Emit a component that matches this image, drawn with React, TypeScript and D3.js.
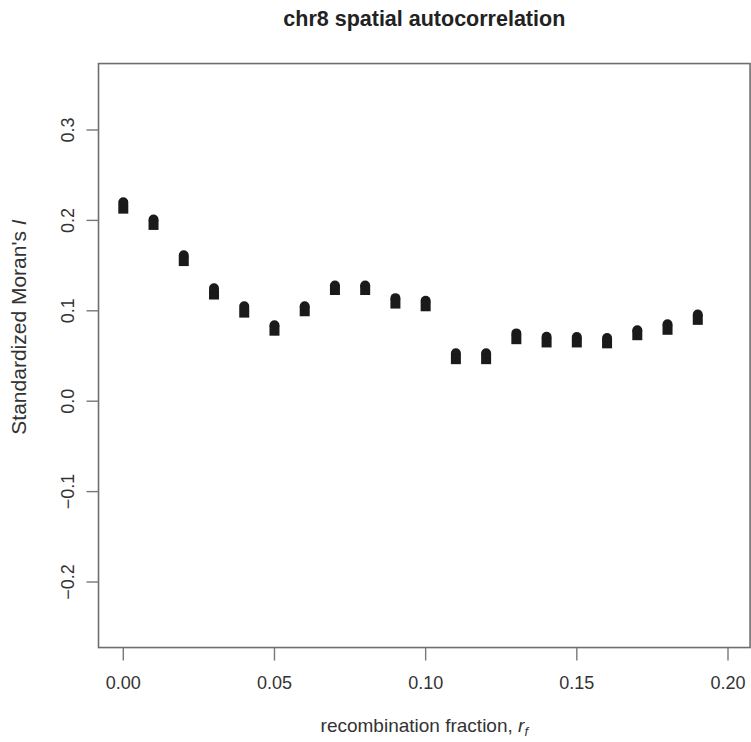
import React from "react";
import * as d3 from "d3";

const xValues = [0, 0.01, 0.02, 0.03, 0.04, 0.05, 0.06, 0.07, 0.08, 0.09, 0.1, 0.11, 0.12, 0.13, 0.14, 0.15, 0.16, 0.17, 0.18, 0.19];
const circleValues = [0.22, 0.201, 0.1615, 0.125, 0.105, 0.084, 0.105, 0.128, 0.128, 0.114, 0.111, 0.053, 0.053, 0.075, 0.0713, 0.071, 0.07, 0.0785, 0.085, 0.096];
const squareValues = [0.213, 0.195, 0.155, 0.118, 0.098, 0.078, 0.0995, 0.123, 0.123, 0.108, 0.105, 0.0465, 0.0465, 0.0686, 0.065, 0.065, 0.064, 0.073, 0.079, 0.09];
const xTicks = [0, 0.05, 0.1, 0.15, 0.2];
const yTicks = [-0.2, -0.1, 0, 0.1, 0.2, 0.3];
const xLim = [-0.0082, 0.2073];
const yLim = [-0.2725, 0.3735];

const W = 751;
const H = 742;
const FONT = "'Liberation Sans', Arial, Helvetica, sans-serif";

export default function App() {
  const x = d3.scaleLinear().domain([0, 0.2]).range([123.3, 728]);
  const y = d3.scaleLinear().domain([-0.2, 0.3]).range([582, 130]);
  const left = x(xLim[0]);
  const right = x(xLim[1]);
  const top = y(yLim[1]);
  const bottom = y(yLim[0]);
  const fmtX = d3.format(".2f");
  const fmtY = (v: number) => d3.format(".1f")(v).replace("-", "\u2212");
  const r = 5;
  return (
    <svg width={W} height={H} style={{ position: "absolute", left: 0, top: 0, background: "#fff" }}>
      <text x={(left + right) / 2} y={26} textAnchor="middle" fontFamily={FONT} fontWeight="bold" fontSize={21.5} fill="#222">
        chr8 spatial autocorrelation
      </text>
      <rect x={left} y={top} width={right - left} height={bottom - top} fill="none" stroke="#6e6e6e" strokeWidth={1.6} />
      {xTicks.map((t) => (
        <g key={"xt" + t}>
          <line x1={x(t)} x2={x(t)} y1={bottom} y2={bottom + 13} stroke="#777" strokeWidth={1.4} />
          <text x={x(t)} y={689} textAnchor="middle" fontFamily={FONT} fontSize={18} fill="#333">
            {fmtX(t)}
          </text>
        </g>
      ))}
      {yTicks.map((t) => (
        <g key={"yt" + t}>
          <line x1={left - 12} x2={left} y1={y(t)} y2={y(t)} stroke="#777" strokeWidth={1.4} />
          <text transform={`translate(${74},${y(t)}) rotate(-90)`} textAnchor="middle" fontFamily={FONT} fontSize={18} fill="#333">
            {fmtY(t)}
          </text>
        </g>
      ))}
      <text x={(left + right) / 2} y={732} textAnchor="middle" fontFamily={FONT} fontSize={19} fill="#333">
        recombination fraction, <tspan fontStyle="italic">r</tspan>
        <tspan fontSize={13} dy={4} fontStyle="italic">f</tspan>
      </text>
      <text transform={`translate(${26},${327}) rotate(-90)`} textAnchor="middle" fontFamily={FONT} fontSize={21} fill="#333">
        Standardized Moran's <tspan fontStyle="italic">I</tspan>
      </text>
      {xValues.map((xv, i) => (
        <g key={"p" + i} fill="#1a1a1a">
          <rect x={x(xv) - r} y={y(squareValues[i]) - r} width={2 * r} height={2 * r} />
          <circle cx={x(xv)} cy={y(circleValues[i])} r={r} />
        </g>
      ))}
    </svg>
  );
}
